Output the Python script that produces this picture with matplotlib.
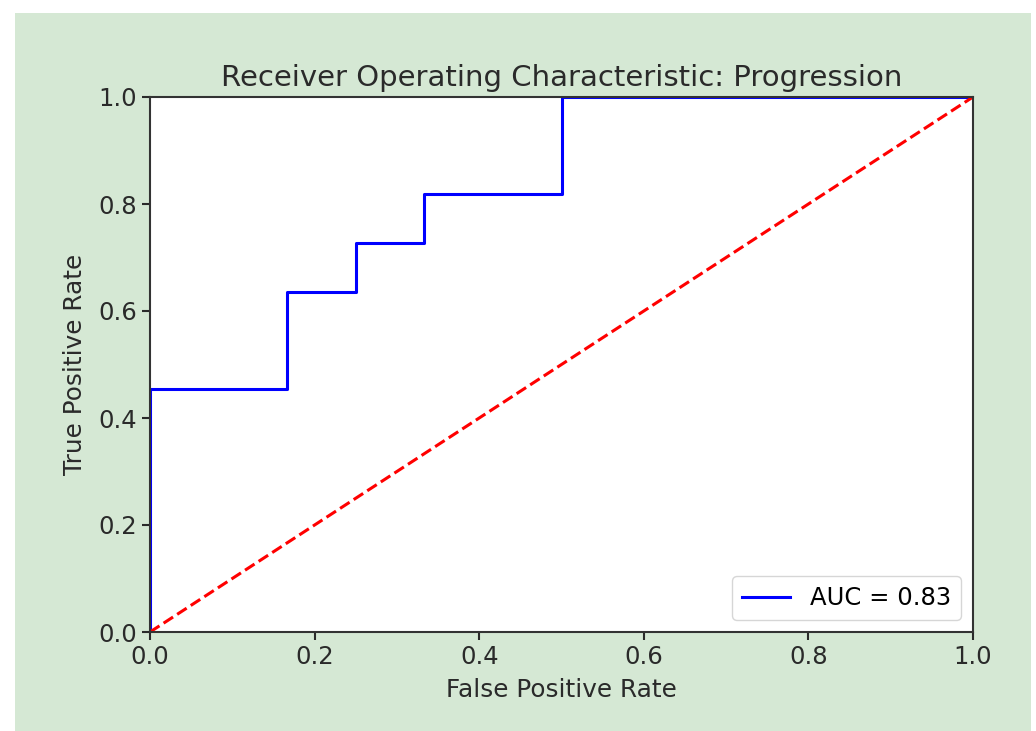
import numpy as np
import matplotlib
matplotlib.use('Agg')
import matplotlib.pyplot as plt
from matplotlib.patches import Rectangle

# ROC curve points
fpr = [0.0, 0.0, 1/6, 1/6, 0.25, 0.25, 1/3, 1/3, 0.5, 0.5, 1.0]
tpr = [0.0, 5/11, 5/11, 7/11, 7/11, 8/11, 8/11, 9/11, 9/11, 1.0, 1.0]
roc_auc = 0.83

fig = plt.figure(figsize=(10.36, 7.31), dpi=100)
fig.patch.set_facecolor('white')
# green panel behind the plot
fig.patches.append(Rectangle((15/1036, 0), (1031 - 15)/1036, 1 - 13/731,
                             transform=fig.transFigure, facecolor='#d5e8d4',
                             edgecolor='none', zorder=-10))

ax = fig.add_axes([150/1036, 1 - 632/731, 823/1036, 535/731])
ax.plot(fpr, tpr, 'b', lw=2.2, label='AUC = %0.2f' % roc_auc)
ax.plot([0, 1], [0, 1], 'r--', lw=2.2)
ax.set_xlim([0, 1])
ax.set_ylim([0, 1])
ax.set_title('Receiver Operating Characteristic: Progression', fontsize=21, color='#2a2a2a', pad=8)
ax.set_ylabel('True Positive Rate', fontsize=17.8, color='#2a2a2a', labelpad=8)
ax.set_xlabel('False Positive Rate', fontsize=17.8, color='#2a2a2a', labelpad=6)
ax.tick_params(labelsize=17.5, width=1.5, length=6, colors='#2a2a2a')
for s in ax.spines.values():
    s.set_linewidth(1.5)
    s.set_color('#333333')
leg = ax.legend(loc='lower right', fontsize=17.5)

fig.savefig('out.png', dpi=100, facecolor=fig.get_facecolor())
